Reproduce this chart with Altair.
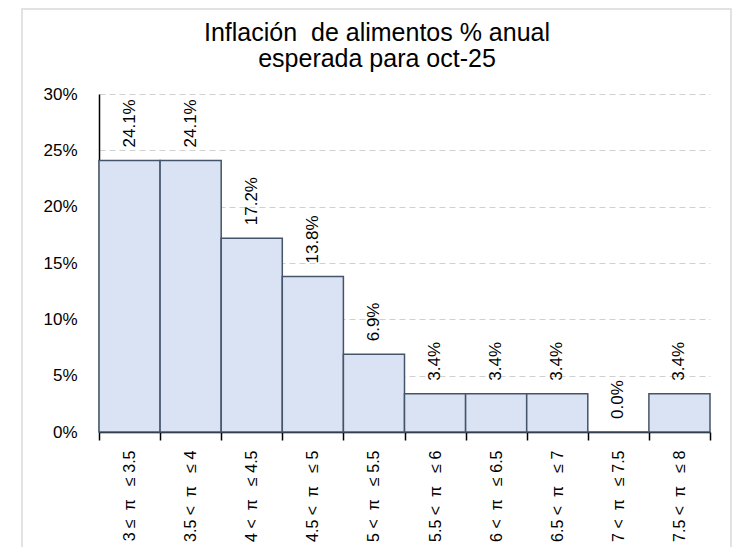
import altair as alt
import pandas as pd

A = "\u00a0\u00a0"
B = "\u00a0\u00a0\u00a0"
categories = [
    f"3 ≤{A}π{B}≤ 3.5",
    f"3.5 <{A}π{B}≤ 4",
    f"4 <{A}π{B}≤ 4.5",
    f"4.5 <{A}π{B}≤ 5",
    f"5 <{A}π{B}≤ 5.5",
    f"5.5 <{A}π{B}≤ 6",
    f"6 <{A}π{B}≤ 6.5",
    f"6.5 <{A}π{B}≤ 7",
    f"7 <{A}π{B}≤ 7.5",
    f"7.5 <{A}π{B}≤ 8",
]
values = [0.241, 0.241, 0.172, 0.138, 0.069, 0.034, 0.034, 0.034, 0.0, 0.034]
y_ticks = [0, 0.05, 0.10, 0.15, 0.20, 0.25, 0.30]
title_lines = ["Inflación\u00a0 de alimentos % anual", "esperada para oct-25"]

df = pd.DataFrame({"cat": categories, "val": values})

FONT = "Liberation Sans"

x_enc = alt.X(
    "cat:N",
    sort=categories,
    scale=alt.Scale(paddingInner=0, paddingOuter=0),
    axis=alt.Axis(
        title=None,
        labelAngle=-90,
        labelFontSize=16,
        labelFont=FONT,
        labelColor="black",
        labelPadding=10,
        tickBand="extent",
        tickSize=8,
        tickColor="black",
        tickWidth=1.5,
        domainColor="black",
        domainWidth=1.5,
        labelLimit=200,
        grid=False,
    ),
)
y_enc = alt.Y(
    "val:Q",
    scale=alt.Scale(domain=[0, 0.3], nice=False),
    axis=alt.Axis(
        title=None,
        values=y_ticks,
        format=".0%",
        labelFontSize=17,
        labelFont=FONT,
        labelColor="black",
        labelPadding=22,
        ticks=False,
        domainColor="black",
        domainWidth=1.5,
        grid=True,
        gridColor="#d0d0d0",
        gridDash=[6, 4],
        gridWidth=1,
    ),
)

one = pd.DataFrame({"a": [0]})

frame = alt.Chart(one).mark_rect(
    fill=None, stroke="#d9d9d9", strokeWidth=1.5, clip=False
).encode(
    x=alt.value(-77), x2=alt.value(632), y=alt.value(-85), y2=alt.value(480)
)

title = alt.Chart(one).mark_text(
    fontSize=25, font=FONT, color="black", align="center",
    baseline="alphabetic", lineHeight=26
).encode(
    x=alt.value(278), y=alt.value(-53), text=alt.value(title_lines)
)

bars = alt.Chart(df).mark_bar(
    fill="#dae3f3", stroke="#44546a", strokeWidth=1.5
).encode(x=x_enc, y=y_enc)

labels = alt.Chart(df).mark_text(
    angle=270, align="left", baseline="middle", dx=13,
    fontSize=17, font=FONT, color="black"
).encode(
    x=alt.X("cat:N", sort=categories),
    y="val:Q",
    text=alt.Text("val:Q", format=".1%"),
)

chart = alt.layer(frame, bars, labels, title).properties(
    width=611,
    height=338,
    autosize=alt.AutoSizeParams(type="none"),
    padding={"left": 91, "top": 86, "right": 22, "bottom": 115},
).configure(background="white", view=alt.ViewConfig(stroke=None))

chart.save("out.html", embed_options={"renderer": "svg", "actions": False})
